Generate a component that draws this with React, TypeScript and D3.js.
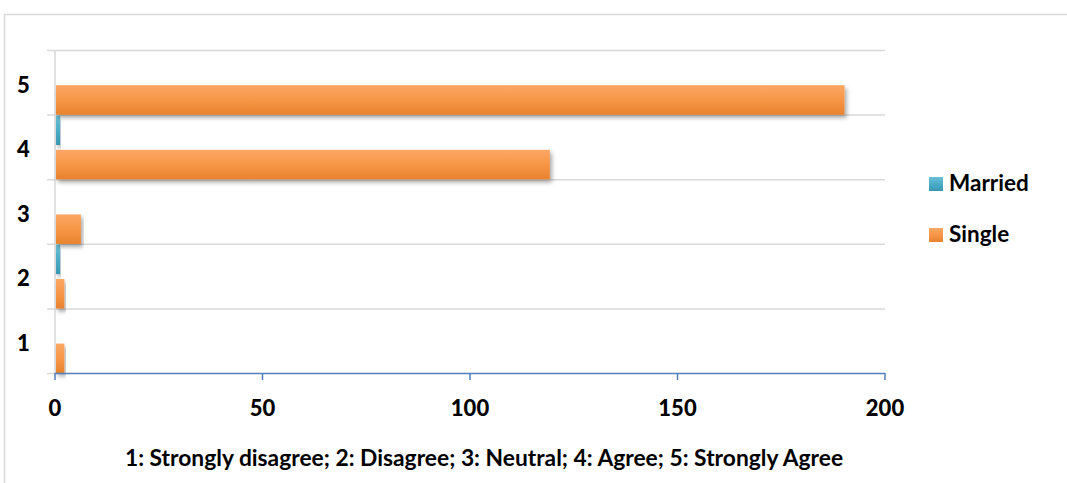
import React from "react";
import * as d3 from "d3";

const categories = ["1", "2", "3", "4", "5"];
const seriesNames = ["Married", "Single"];
const married = [0, 1, 0, 1, 0];
const single = [2, 2, 6, 119, 190];
const xTicks = [0, 50, 100, 150, 200];
const footnote = "1: Strongly disagree; 2: Disagree; 3: Neutral; 4: Agree; 5: Strongly Agree";

const W = 1067, H = 483;
const FONT = "Lato, 'Open Sans', sans-serif";

export default function App() {
  const x = d3.scaleLinear().domain([0, 200]).range([55, 885]);
  const y = d3.scaleBand<string>().domain([...categories].reverse()).range([50.5, 373.5]).paddingInner(0).paddingOuter(0);
  const sub = d3.scaleBand<string>().domain(seriesNames).range([0, y.bandwidth()]).paddingInner(0.14).paddingOuter(0.01);
  const colors: Record<string, string[]> = {
    Married: ["#6cc0d6", "#4bacc6", "#3a96b0"],
    Single: ["#fba765", "#f79646", "#e8832e"],
  };
  const data = categories.map((c, i) => ({ c, Married: married[i], Single: single[i] }));
  const gridYs = [...y.domain().map((d) => y(d) as number), 373.5];

  return (
    <svg width={W} height={H} style={{ position: "absolute", left: 0, top: 0 }} fontFamily={FONT}>
      <defs>
        {seriesNames.map((s) => (
          <linearGradient key={s} id={`g-${s}`} x1="0" y1="0" x2="0" y2="1">
            <stop offset="0" stopColor={colors[s][0]} />
            <stop offset="0.5" stopColor={colors[s][1]} />
            <stop offset="1" stopColor={colors[s][2]} />
          </linearGradient>
        ))}
        <filter id="shadow" x="-5%" y="-30%" width="115%" height="180%">
          <feDropShadow dx="2" dy="3" stdDeviation="2" floodColor="#000" floodOpacity="0.35" />
        </filter>
      </defs>
      <rect x={0} y={0} width={W} height={H} fill="#fff" />
      <rect x={4.5} y={14.5} width={W + 10} height={H + 10} fill="#fff" stroke="#d9d9d9" strokeWidth={1.5} />

      {gridYs.slice(0, -1).map((gy, i) => (
        <line key={i} x1={47} x2={885} y1={gy} y2={gy} stroke="#d9d9d9" strokeWidth={1.5} />
      ))}
      <line x1={47} x2={55} y1={373.5} y2={373.5} stroke="#d9d9d9" strokeWidth={1.5} />
      <line x1={55} x2={55} y1={50} y2={374} stroke="#d9d9d9" strokeWidth={1.5} />

      {data.map((d) =>
        seriesNames.map((s) => {
          const v = (d as any)[s] as number;
          if (v <= 0) return null;
          const by = (y(d.c) as number) + (sub(s) as number);
          return (
            <rect key={d.c + s} x={x(0) + 1} y={by} width={x(v) - x(0)} height={sub.bandwidth()}
              fill={`url(#g-${s})`} filter="url(#shadow)" />
          );
        })
      )}

      <line x1={55} x2={885} y1={373.5} y2={373.5} stroke="#4f81bd" strokeWidth={1.5} />
      {xTicks.map((t) => (
        <g key={t}>
          <line x1={x(t)} x2={x(t)} y1={373} y2={380} stroke="#4f81bd" strokeWidth={1.5} />
          <text x={x(t)} y={416} textAnchor="middle" fontSize={22} fontWeight="900" fill="#000">{t}</text>
        </g>
      ))}
      {categories.map((c) => (
        <text key={c} x={23.5} y={(y(c) as number) + 42} textAnchor="middle" fontSize={22} fontWeight="900" fill="#000">{c}</text>
      ))}
      <text x={484} y={466} textAnchor="middle" fontSize={22.8} fontWeight="bold" fill="#000">{footnote}</text>

      {seriesNames.map((s, i) => (
        <g key={s} transform={`translate(929, ${177 + i * 51})`}>
          <rect x={0} y={0} width={14} height={14} fill={`url(#g-${s})`} />
          <text x={20} y={14} fontSize={22.5} fontWeight="bold" fill="#000">{s}</text>
        </g>
      ))}
    </svg>
  );
}
